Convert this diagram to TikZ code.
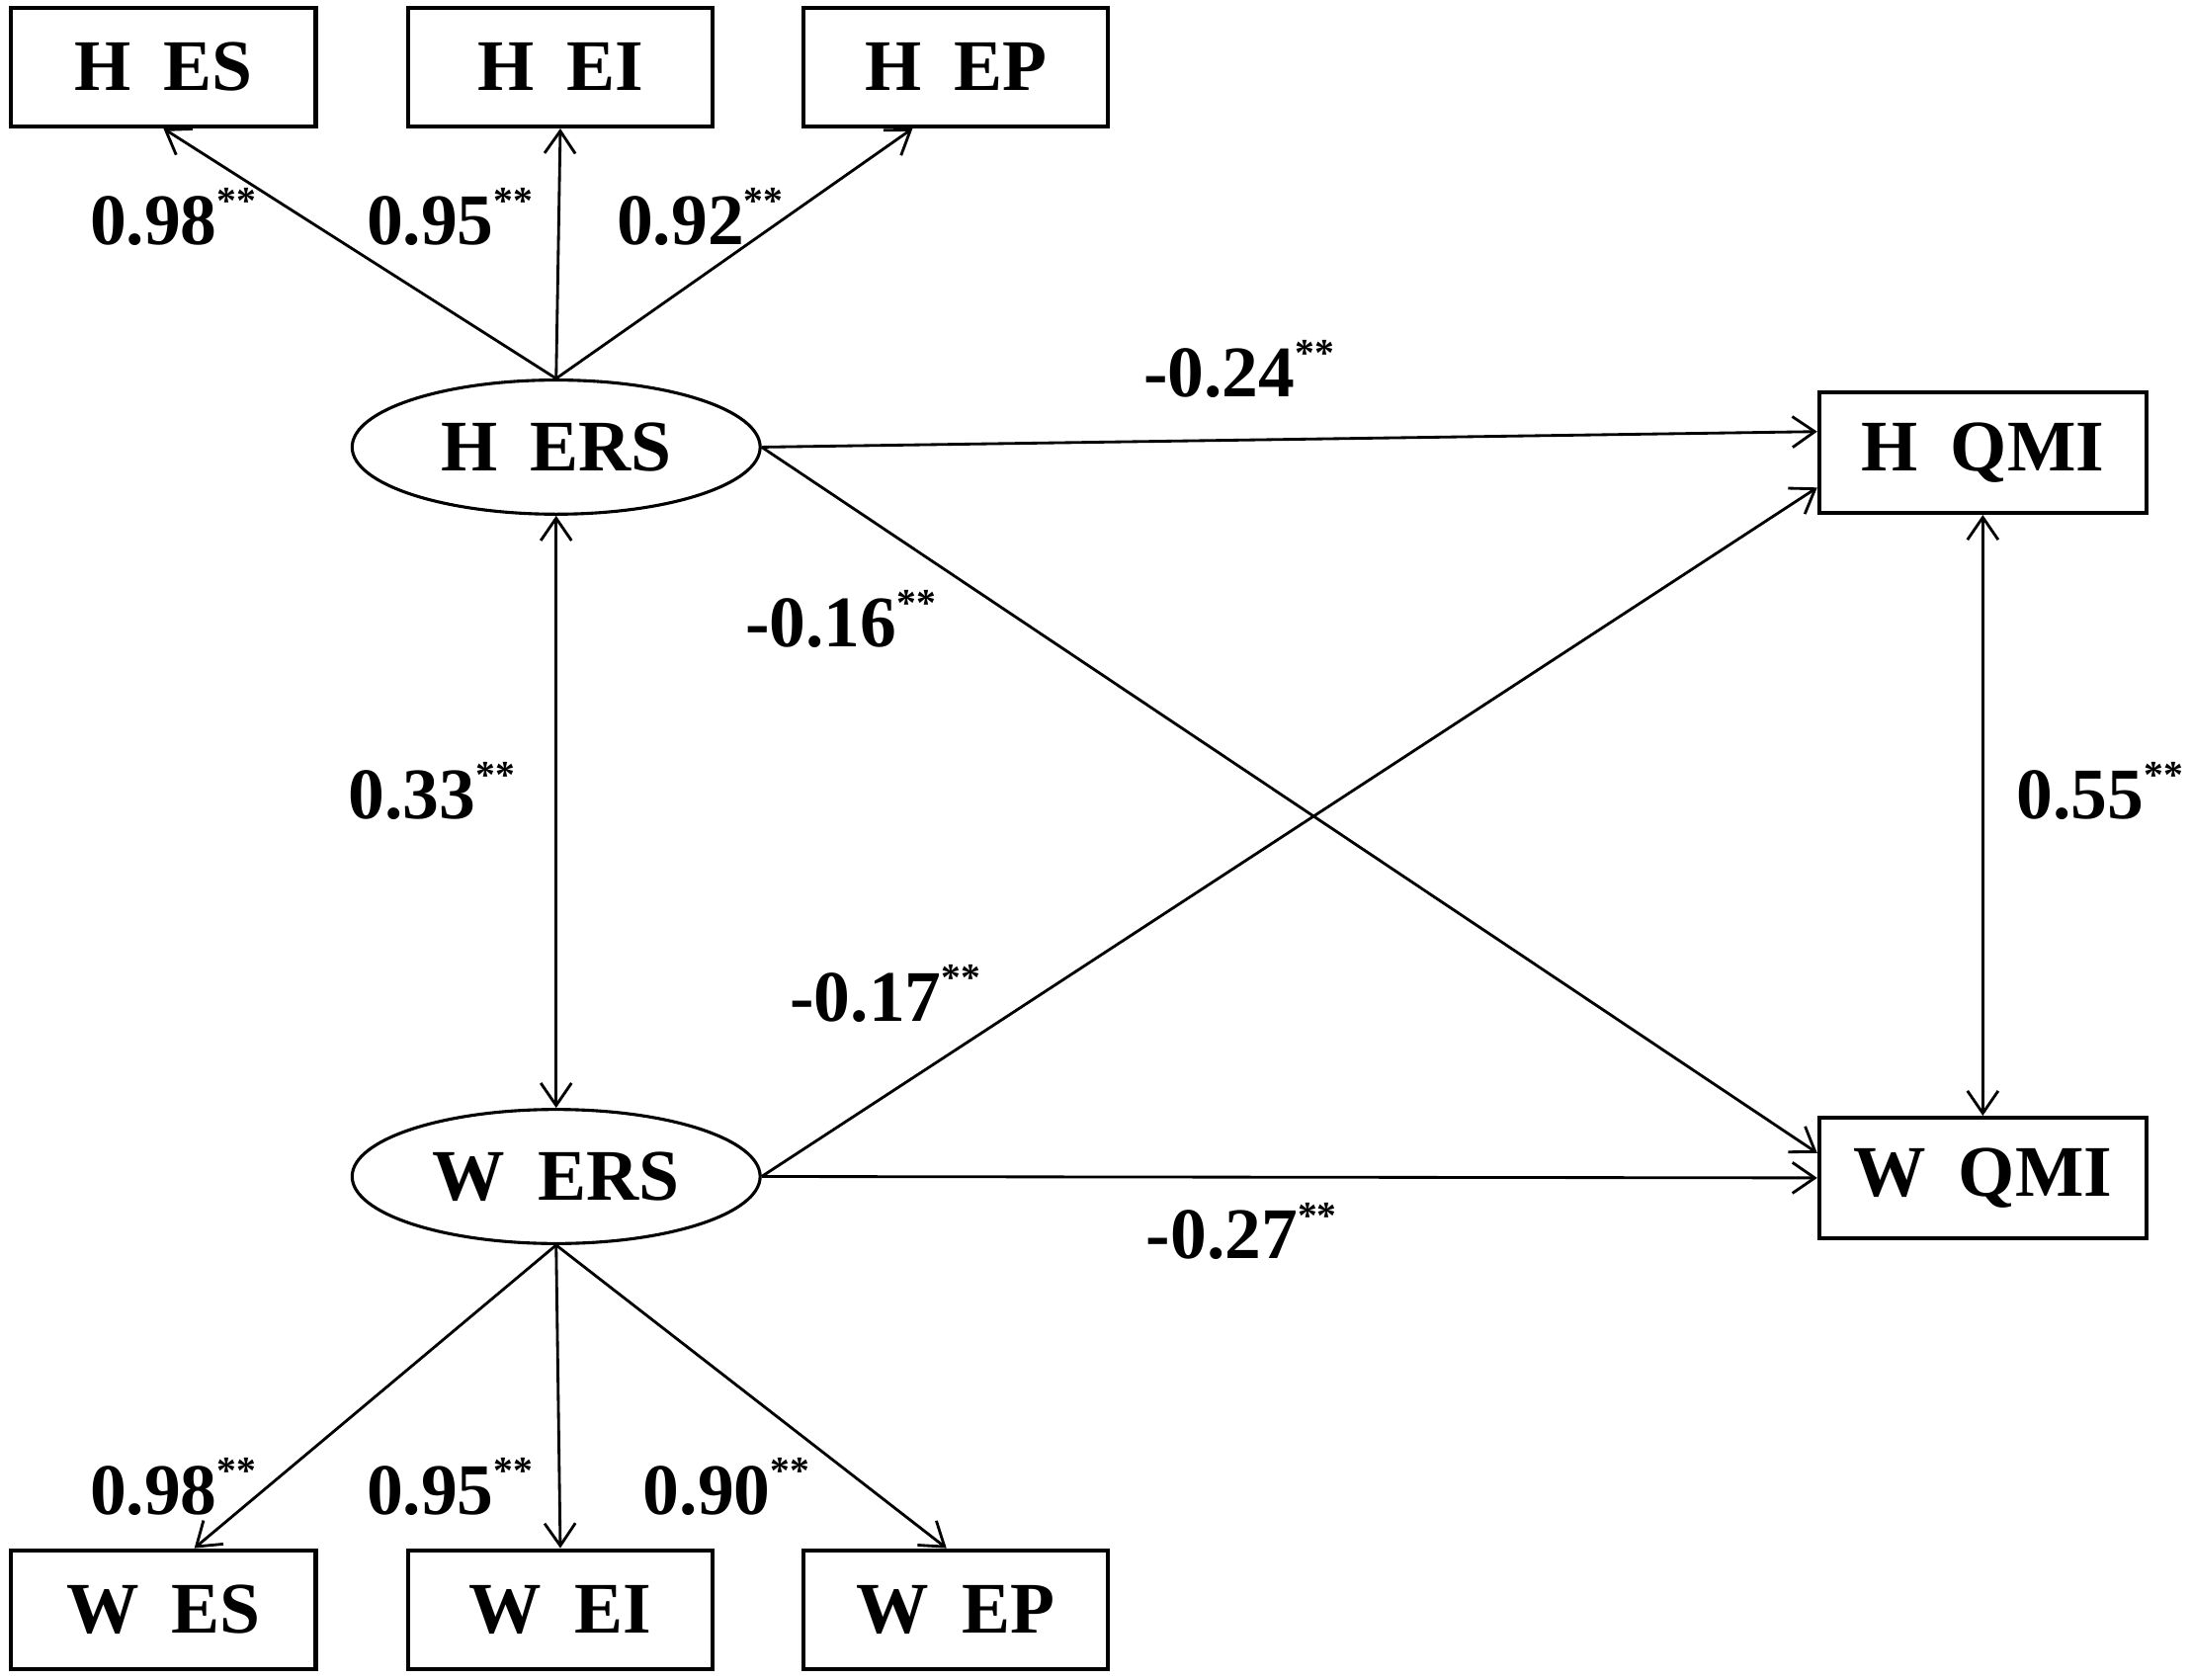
\documentclass[tikz,border=0pt]{standalone}
\usepackage{fontspec}
\setmainfont{Liberation Serif}
\usetikzlibrary{shapes.geometric, arrows.meta, calc}
\newcommand{\sigst}{\raisebox{0.42em}{\fontsize{14}{14}\selectfont **}}
\begin{document}
\begin{tikzpicture}[x=0.5pt,y=-0.5pt,
 txt/.style={font=\bfseries\fontsize{26}{30}\selectfont},
 box/.style={txt, draw, line width=1.5pt, minimum width=109pt, minimum height=42.5pt, inner sep=0pt},
 qbox/.style={txt, draw, line width=1.5pt, minimum width=117pt, minimum height=43pt, inner sep=0pt},
 lat/.style={txt, ellipse, draw, line width=1.1pt, minimum width=146pt, minimum height=48pt, inner sep=0pt},
 conn/.style={line width=1pt, -{Straight Barb[length=8pt,width=11pt]}},
 dconn/.style={line width=1pt, {Straight Barb[length=8pt,width=11pt]}-{Straight Barb[length=8pt,width=11pt]}},
 lab/.style={txt, inner sep=0pt, anchor=base west}]
\useasboundingbox (0,0) rectangle (1568,1202);

% nodes
\node[box] (HES) at (117,48) {H\hspace{0.45em}ES};
\node[box] (HEI) at (401,48) {H\hspace{0.45em}EI};
\node[box] (HEP) at (684,48) {H\hspace{0.45em}EP};
\node[lat] (HERS) at (398,320) {H\hspace{0.45em}ERS};
\node[lat] (WERS) at (398,842) {W\hspace{0.45em}ERS};
\node[qbox] (HQMI) at (1419,324) {H\hspace{0.45em}QMI};
\node[qbox] (WQMI) at (1419,843) {W\hspace{0.45em}QMI};
\node[box] (WES) at (117,1152) {W\hspace{0.45em}ES};
\node[box] (WEI) at (401,1152) {W\hspace{0.45em}EI};
\node[box] (WEP) at (684,1152) {W\hspace{0.45em}EP};

% target coordinates on box borders
\coordinate (hep) at ($(HEP.south west)!0.36!(HEP.south east)$);
\coordinate (wes) at ($(WES.north west)!0.6!(WES.north east)$);
\coordinate (wep) at ($(WEP.north west)!0.47!(WEP.north east)$);
\coordinate (hq1) at ($(HQMI.north west)!0.33!(HQMI.south west)$);
\coordinate (hq2) at ($(HQMI.north west)!0.78!(HQMI.south west)$);
\coordinate (wq1) at ($(WQMI.north west)!0.3!(WQMI.south west)$);
\coordinate (wq2) at ($(WQMI.north west)!0.5!(WQMI.south west)$);

% connectors
\draw[conn] (HERS.north) -- (HES.south);
\draw[conn] (HERS.north) -- (HEI.south);
\draw[conn] (HERS.north) -- (hep);
\draw[conn] (WERS.south) -- (wes);
\draw[conn] (WERS.south) -- (WEI.north);
\draw[conn] (WERS.south) -- (wep);
\draw[conn] (HERS.east) -- (hq1);
\draw[conn] (HERS.east) -- (wq1);
\draw[conn] (WERS.east) -- (hq2);
\draw[conn] (WERS.east) -- (wq2);
\draw[dconn] (HERS.south) -- (WERS.north);
\draw[dconn] (HQMI.south) -- (WQMI.north);

% labels
\node[lab] (l1) at (64,175) {0.98\sigst};
\node[lab] (l2) at (262,175) {0.95\sigst};
\node[lab] (l3) at (441,175) {0.92\sigst};
\node[lab] (l4) at (818,284) {-0.24\sigst};
\node[lab] (l5) at (533,463) {-0.16\sigst};
\node[lab] (l6) at (249,586) {0.33\sigst};
\node[lab] (l7) at (1443,586) {0.55\sigst};
\node[lab] (l8) at (565,731) {-0.17\sigst};
\node[lab] (l9) at (820,901) {-0.27\sigst};
\node[lab] (l10) at (64,1084) {0.98\sigst};
\node[lab] (l11) at (262,1084) {0.95\sigst};
\node[lab] (l12) at (460,1084) {0.90\sigst};
\end{tikzpicture}
\end{document}
